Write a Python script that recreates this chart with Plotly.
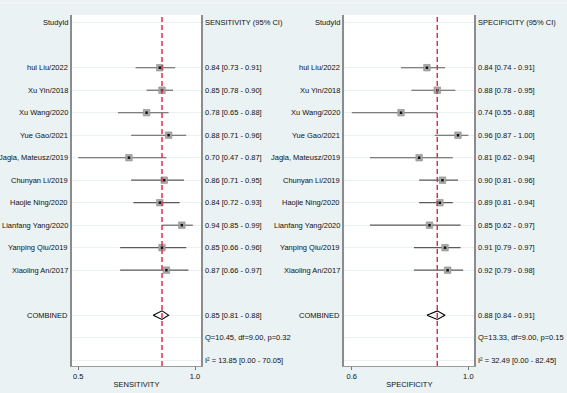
import plotly.graph_objects as go

studies = ["hui Liu/2022", "Xu Yin/2018", "Xu Wang/2020", "Yue Gao/2021", "Jagla, Mateusz/2019",
           "Chunyan Li/2019", "Haojie Ning/2020", "Lianfang Yang/2020", "Yanping Qiu/2019", "Xiaoling An/2017"]
sens = [0.84, 0.85, 0.78, 0.88, 0.70, 0.86, 0.84, 0.94, 0.85, 0.87]
sens_lo = [0.73, 0.78, 0.65, 0.71, 0.47, 0.71, 0.72, 0.85, 0.66, 0.66]
sens_hi = [0.91, 0.90, 0.88, 0.96, 0.87, 0.95, 0.93, 0.99, 0.96, 0.97]
spec = [0.84, 0.88, 0.74, 0.96, 0.81, 0.90, 0.89, 0.85, 0.91, 0.92]
spec_lo = [0.74, 0.78, 0.55, 0.87, 0.62, 0.81, 0.81, 0.62, 0.79, 0.79]
spec_hi = [0.91, 0.95, 0.88, 1.00, 0.94, 0.96, 0.94, 0.97, 0.97, 0.98]
sens_comb = (0.85, 0.81, 0.88)
spec_comb = (0.88, 0.84, 0.91)
sens_q = "Q=10.45, df=9.00, p=0.32"
spec_q = "Q=13.33, df=9.00, p=0.15"
sens_i2 = "I\u00b2 = 13.85 [0.00 - 70.05]"
spec_i2 = "I\u00b2 = 32.49 [0.00 - 82.45]"
sens_ticks = [0.47, 1.0]
spec_ticks = [0.55, 1.0]
tick_text = ["0.5", "1.0"]
spec_tick_text = ["0.6", "1.0"]

FONT = "Liberation Sans, Arial, sans-serif"
FS = 7.5
BG = "#eaf2f3"
GRID = "#e9f1f3"
n = len(studies)
rows = [2 + i for i in range(n)]
row_comb = rows[-1] + 2
row_q = row_comb + 1
row_i2 = row_comb + 2

fig = go.Figure()

panels = [
    dict(x="x", y="y", est=sens, lo=sens_lo, hi=sens_hi, comb=sens_comb, q=sens_q, i2=sens_i2,
         head="SENSITIVITY (95% CI)", title="SENSITIVITY", ticks=sens_ticks, ttext=tick_text,
         dom=[72 / 567, 201 / 567], rng=[0.4415, 1.027]),
    dict(x="x2", y="y2", est=spec, lo=spec_lo, hi=spec_hi, comb=spec_comb, q=spec_q, i2=spec_i2,
         head="SPECIFICITY (95% CI)", title="SPECIFICITY", ticks=spec_ticks, ttext=spec_tick_text,
         dom=[344.3 / 567, 474.3 / 567], rng=[0.521, 1.023]),
]

annotations = []
shapes = []
ydom = [1 - 366 / 393, 1 - 15 / 393]
yrng = [15.26, -0.342]

for pi, p in enumerate(panels):
    est, lo, hi = p["est"], p["lo"], p["hi"]
    fig.add_trace(go.Scatter(
        x=est, y=rows, xaxis=p["x"], yaxis=p["y"], mode="markers",
        marker=dict(symbol="square", size=6.5, color="#a9a9a9", line=dict(width=0.6, color="#8a8a8a")),
        error_x=dict(type="data", symmetric=False,
                     array=[h - e for h, e in zip(hi, est)],
                     arrayminus=[e - l for e, l in zip(est, lo)],
                     color="#5a5a5a", thickness=1.1, width=0),
        showlegend=False, hoverinfo="skip"))
    fig.add_trace(go.Scatter(
        x=est, y=rows, xaxis=p["x"], yaxis=p["y"], mode="markers",
        marker=dict(symbol="square", size=2.5, color="#111111", line=dict(width=0)),
        showlegend=False, hoverinfo="skip"))
    ce, cl, ch = p["comb"]
    hh = 0.19
    fig.add_trace(go.Scatter(
        x=[cl, ce, ch, ce, cl], y=[row_comb, row_comb - hh, row_comb, row_comb + hh, row_comb],
        xaxis=p["x"], yaxis=p["y"], mode="lines", line=dict(color="#000000", width=1.1),
        fill="toself", fillcolor="rgba(255,255,255,0)", showlegend=False, hoverinfo="skip"))
    xref = p["x"]
    shapes.append(dict(type="line", xref=xref, yref=p["y"] + " domain", x0=ce, x1=ce, y0=0, y1=1,
                       line=dict(color="#d9304f", width=1.5, dash="5px,3px")))
    names = ["StudyId"] + studies + ["COMBINED"]
    nrows = [0] + rows + [row_comb]
    for nm, r in zip(names, nrows):
        annotations.append(dict(text=nm, xref=xref + " domain", yref=p["y"], x=-0.014, y=r,
                                xanchor="right", yanchor="middle", showarrow=False,
                                font=dict(size=FS, color="#111", family=FONT)))
    vals = [p["head"]] + [f"{e:.2f} [{l:.2f} - {h:.2f}]" for e, l, h in zip(est, lo, hi)] + \
           [f"{ce:.2f} [{cl:.2f} - {ch:.2f}]", p["q"], p["i2"]]
    vrows = [0] + rows + [row_comb, row_q, row_i2]
    for v, r in zip(vals, vrows):
        annotations.append(dict(text=v, xref=xref + " domain", yref=p["y"], x=1.012, y=r,
                                xanchor="left", yanchor="middle", showarrow=False,
                                font=dict(size=FS, color="#111", family=FONT)))

gridrows = [0] + rows + [row_comb, row_q, row_i2]

layout_axes = {}
for pi, p in enumerate(panels):
    xa = "xaxis" if pi == 0 else "xaxis2"
    ya = "yaxis" if pi == 0 else "yaxis2"
    layout_axes[xa] = dict(domain=p["dom"], range=p["rng"], anchor=p["y"], tickvals=p["ticks"],
                           ticktext=p["ttext"], ticks="outside", ticklen=3, tickcolor="#777",
                           tickfont=dict(size=FS, color="#111", family=FONT),
                           showgrid=False, zeroline=False, showline=True, linecolor="#9a9a9a",
                           linewidth=1,
                           title=dict(text=p["title"], standoff=1,
                                      font=dict(size=FS, color="#111", family=FONT)))
    layout_axes[ya] = dict(domain=ydom, range=yrng, anchor=p["x"], tickvals=gridrows,
                           showticklabels=False, ticks="", showgrid=True, gridcolor=GRID,
                           gridwidth=1, zeroline=False, showline=True, mirror=True,
                           linecolor="#8c8c8c", linewidth=2)

shapes.append(dict(type="line", xref="paper", yref="paper", x0=0, x1=1, y0=1 - 3 / 393, y1=1 - 3 / 393,
                   line=dict(color="#f7fbfb", width=1)))

fig.update_layout(width=567, height=393, margin=dict(l=0, r=0, t=0, b=0),
                  paper_bgcolor=BG, plot_bgcolor="white", annotations=annotations, shapes=shapes,
                  font=dict(family=FONT, size=FS, color="#111"), **layout_axes)

fig.write_html("out.html", config={"displayModeBar": False, "staticPlot": True},
               post_script="document.body.style.margin='0';document.body.style.overflow='hidden';")
